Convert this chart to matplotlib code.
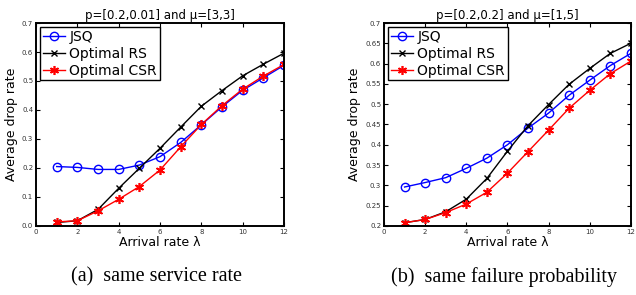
import numpy as np
import matplotlib.pyplot as plt

lam = [1, 2, 3, 4, 5, 6, 7, 8, 9, 10, 11, 12]

# (a) p=[0.2,0.01], mu=[3,3]
jsq_a = [0.205, 0.202, 0.195, 0.195, 0.210, 0.239, 0.288, 0.349, 0.411, 0.468, 0.511, 0.554]
rs_a = [0.012, 0.018, 0.057, 0.130, 0.199, 0.268, 0.341, 0.413, 0.467, 0.518, 0.558, 0.596]
csr_a = [0.014, 0.018, 0.052, 0.092, 0.136, 0.193, 0.273, 0.350, 0.415, 0.472, 0.517, 0.557]

# (b) p=[0.2,0.2], mu=[1,5]
jsq_b = [0.296, 0.307, 0.319, 0.342, 0.367, 0.400, 0.441, 0.478, 0.522, 0.559, 0.595, 0.625]
rs_b = [0.208, 0.216, 0.235, 0.266, 0.317, 0.384, 0.447, 0.499, 0.549, 0.588, 0.625, 0.650]
csr_b = [0.208, 0.216, 0.233, 0.254, 0.283, 0.330, 0.383, 0.436, 0.490, 0.534, 0.575, 0.606]

titles = ["p=[0.2,0.01] and \u03bc=[3,3]", "p=[0.2,0.2] and \u03bc=[1,5]"]
captions = ["(a)  same service rate", "(b)  same failure probability"]

fig = plt.figure(figsize=(6.36, 2.95), dpi=100)
ax1 = fig.add_axes([0.0566, 0.234, 0.390, 0.688])
ax2 = fig.add_axes([0.6038, 0.234, 0.388, 0.688])

panels = [
    (ax1, jsq_a, rs_a, csr_a, (0, 0.7), np.arange(0, 0.71, 0.1), "{:.1f}"),
    (ax2, jsq_b, rs_b, csr_b, (0.2, 0.7), np.arange(0.2, 0.701, 0.05), "{:g}"),
]

# matlab-like asterisk marker
star = (6, 2, 0)

for i, (ax, jsq, rs, csr, ylim, yt, fmt) in enumerate(panels):
    ax.plot(lam, jsq, color='blue', marker='o', markersize=6, markerfacecolor='none',
            markeredgewidth=1.0, linewidth=1.0, label='JSQ')
    ax.plot(lam, rs, color='black', marker='x', markersize=5, markeredgewidth=1.0,
            linewidth=1.0, label='Optimal RS')
    ax.plot(lam, csr, color='red', marker=star, markersize=6.5, markeredgewidth=1.2,
            linewidth=1.0, label='Optimal CSR')
    ax.set_xlim(0, 12)
    ax.set_ylim(*ylim)
    ax.set_xticks(range(0, 13, 2))
    ax.set_yticks(yt)
    ax.set_yticklabels([fmt.format(v) for v in yt])
    ax.tick_params(direction='in', top=True, right=True, labelsize=5, length=3,
                   width=0.8, pad=2, labelcolor='#333333')
    for s in ax.spines.values():
        s.set_linewidth(1.4)
    ax.set_title(titles[i], fontsize=8.5, pad=3)
    ax.set_xlabel("Arrival rate \u03bb", fontsize=9, labelpad=1)
    ax.set_ylabel("Average drop rate", fontsize=9, labelpad=3)
    leg = ax.legend(loc='upper left', fontsize=10, fancybox=False, edgecolor='black',
                    framealpha=1, borderpad=0.2, labelspacing=0.2, handlelength=1.6,
                    handletextpad=0.3, borderaxespad=0.3)
    leg.get_frame().set_linewidth(1.0)
    fig.text(ax.get_position().x0 + ax.get_position().width / 2 - 0.005, 0.06,
             captions[i], ha='center', va='center', fontsize=14.5,
             family='Liberation Serif')

fig.savefig("out.png", dpi=100)
